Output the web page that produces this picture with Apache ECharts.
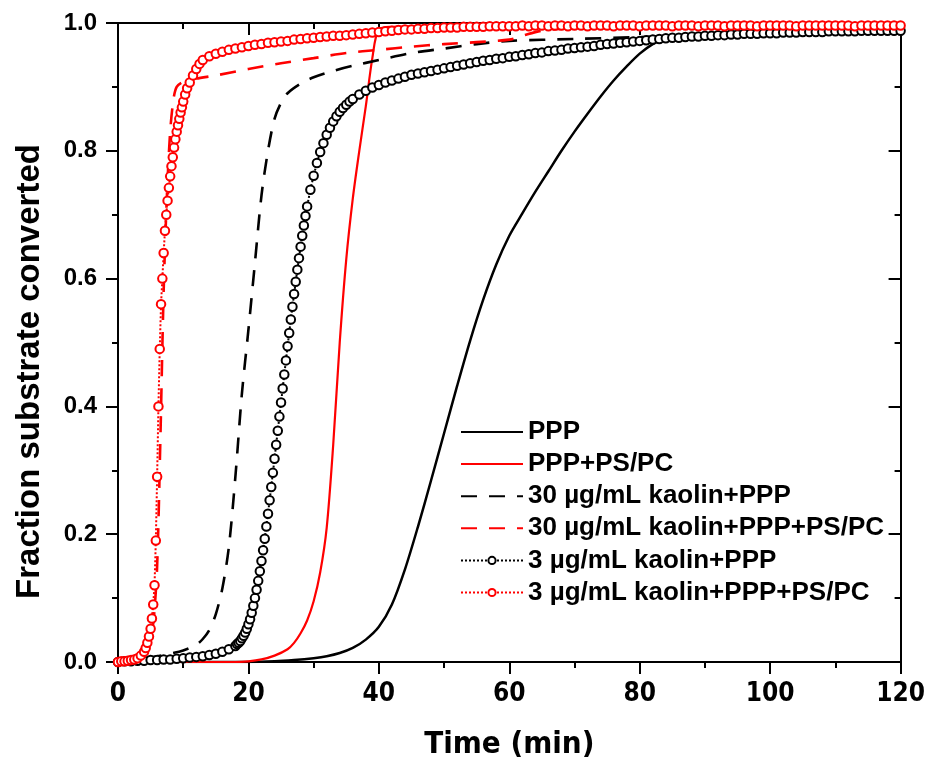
<!DOCTYPE html>
<html>
<head>
<meta charset="utf-8">
<title>Fraction substrate converted</title>
<script src="https://cdn.jsdelivr.net/npm/echarts@6/dist/echarts.min.js"></script>
<style>
  html, body { margin: 0; padding: 0; background: #fff; }
  #chart { width: 928px; height: 766px; }
</style>
</head>
<body>
<div id="chart"></div>
<script>
// series names (legend order)
var names = [
  "PPP",
  "PPP+PS/PC",
  "30 µg/mL kaolin+PPP",
  "30 µg/mL kaolin+PPP+PS/PC",
  "3 µg/mL kaolin+PPP",
  "3 µg/mL kaolin+PPP+PS/PC"
];

// PPP (black solid)
var pppTime = [0, 10, 20, 24, 27, 30, 32, 34, 36, 38, 40, 42, 44, 46, 48, 50, 52, 54, 56, 58, 60, 62, 64, 66, 68, 70, 72, 74, 76, 78, 80, 82, 84, 86, 90, 95, 100, 110, 120];
var pppValue = [0, 0, 0, 0.001, 0.003, 0.006, 0.009, 0.014, 0.022, 0.035, 0.055, 0.09, 0.145, 0.212, 0.284, 0.358, 0.432, 0.503, 0.567, 0.622, 0.667, 0.702, 0.736, 0.768, 0.8, 0.83, 0.858, 0.885, 0.91, 0.932, 0.952, 0.967, 0.976, 0.979, 0.982, 0.984, 0.986, 0.988, 0.99];

// PPP+PS/PC (red solid)
var psTime = [0, 18, 20, 22, 24, 26, 27, 28, 29, 30, 31, 32, 33, 34, 35, 36, 37, 38, 39, 40, 42, 50, 60, 80, 100, 120];
var psValue = [0, 0, 0.001, 0.004, 0.01, 0.02, 0.03, 0.045, 0.065, 0.095, 0.14, 0.21, 0.34, 0.5, 0.63, 0.725, 0.8, 0.87, 0.945, 0.99, 0.994, 0.995, 0.996, 0.997, 0.997, 0.997];

// 30 ug/mL kaolin+PPP (black dashed)
var k30Time = [0, 2, 4, 6, 8, 10, 12, 13, 14, 15, 16, 17, 18, 19, 20, 21, 22, 23, 24, 25, 26, 28, 30, 33, 36, 40, 45, 50, 55, 60, 70, 80, 90, 100, 110, 120];
var k30Value = [0, 0.002, 0.005, 0.009, 0.013, 0.018, 0.027, 0.036, 0.05, 0.075, 0.115, 0.18, 0.29, 0.42, 0.52, 0.625, 0.73, 0.8, 0.85, 0.875, 0.89, 0.905, 0.915, 0.925, 0.933, 0.942, 0.953, 0.96, 0.967, 0.972, 0.975, 0.978, 0.982, 0.985, 0.987, 0.988];

// 30 ug/mL kaolin+PPP+PS/PC (red dashed)
var k30psTime = [0, 2, 3, 4, 4.5, 5, 5.5, 6, 6.5, 7, 7.5, 8, 8.5, 9, 10, 12, 15, 20, 25, 30, 35, 40, 45, 50, 55, 60, 62, 65, 70, 80, 100, 120];
var k30psValue = [0, 0.002, 0.005, 0.012, 0.02, 0.035, 0.07, 0.15, 0.35, 0.58, 0.73, 0.83, 0.88, 0.9, 0.908, 0.913, 0.918, 0.928, 0.937, 0.945, 0.953, 0.958, 0.963, 0.967, 0.97, 0.974, 0.98, 0.988, 0.992, 0.994, 0.995, 0.996];

// 3 ug/mL kaolin+PPP (black dotted, open circles)
var k3Time = [0, 1, 2, 3, 4, 5, 6, 7, 8, 9, 10, 11, 12, 13, 14, 15, 16, 17, 18,
  18.25, 18.5, 18.75, 19, 19.25, 19.5, 19.75, 20, 20.25, 20.5, 20.75, 21, 21.25, 21.5, 21.75, 22,
  22.25, 22.5, 22.75, 23, 23.25, 23.5, 23.75, 24, 24.25, 24.5, 24.75, 25, 25.25, 25.5, 25.75, 26,
  26.25, 26.5, 26.75, 27, 27.25, 27.5, 27.75, 28, 28.25, 28.5, 28.75, 29,
  29.5, 30, 30.5, 31, 31.5, 32, 32.5, 33, 33.5, 34, 34.5, 35, 35.5, 36,
  37, 38, 39, 40, 41, 42, 43, 44, 45, 46, 47, 48, 49, 50, 51, 52, 53, 54, 55, 56, 57, 58, 59, 60,
  61, 62, 63, 64, 65, 66, 67, 68, 69, 70, 71, 72, 73, 74, 75, 76, 77, 78, 79, 80,
  81, 82, 83, 84, 85, 86, 87, 88, 89, 90, 91, 92, 93, 94, 95, 96, 97, 98, 99, 100,
  101, 102, 103, 104, 105, 106, 107, 108, 109, 110, 111, 112, 113, 114, 115, 116, 117, 118, 119, 120];
var k3Value = [0, 0.001, 0.001, 0.002, 0.002, 0.003, 0.003, 0.004, 0.004, 0.005, 0.006, 0.007, 0.008, 0.009, 0.011, 0.013, 0.016, 0.02, 0.025,
  0.028, 0.03, 0.033, 0.037, 0.041, 0.046, 0.052, 0.059, 0.067, 0.077, 0.088, 0.1, 0.113, 0.127, 0.142, 0.158,
  0.175, 0.193, 0.212, 0.232, 0.253, 0.274, 0.296, 0.318, 0.34, 0.362, 0.384, 0.406, 0.428, 0.45, 0.472, 0.494,
  0.515, 0.536, 0.556, 0.576, 0.595, 0.614, 0.632, 0.65, 0.667, 0.683, 0.698, 0.713,
  0.739, 0.761, 0.781, 0.798, 0.812, 0.825, 0.836, 0.846, 0.854, 0.861, 0.867, 0.872, 0.877, 0.881,
  0.888, 0.894, 0.899, 0.903, 0.907, 0.91, 0.913, 0.916, 0.919, 0.921, 0.923, 0.925, 0.927, 0.929, 0.931, 0.933, 0.935, 0.937, 0.939, 0.941, 0.942, 0.944, 0.945, 0.947,
  0.948, 0.95, 0.951, 0.953, 0.954, 0.956, 0.957, 0.958, 0.96, 0.961, 0.962, 0.963, 0.964, 0.966, 0.967, 0.968, 0.969, 0.97, 0.971, 0.972,
  0.973, 0.974, 0.975, 0.976, 0.977, 0.977, 0.978, 0.979, 0.979, 0.98, 0.98, 0.981, 0.981, 0.982, 0.982, 0.983, 0.983, 0.983, 0.984, 0.984,
  0.984, 0.985, 0.985, 0.985, 0.986, 0.986, 0.986, 0.986, 0.987, 0.987, 0.987, 0.987, 0.987, 0.988, 0.988, 0.988, 0.988, 0.988, 0.988, 0.988];

// 3 ug/mL kaolin+PPP+PS/PC (red dotted, open circles)
var k3psTime = [0, 0.5, 1, 1.5, 2, 2.5, 3, 3.5, 4, 4.25, 4.5, 4.75, 5, 5.2, 5.4, 5.6, 5.8, 6, 6.2, 6.4, 6.6, 6.8,
  7, 7.2, 7.4, 7.6, 7.8, 8, 8.2, 8.4, 8.6, 8.8, 9, 9.2, 9.4, 9.6, 9.8, 10, 10.3, 10.6, 11, 11.5, 12, 12.5, 13,
  14, 15, 16, 17, 18, 19, 20, 21, 22, 23, 24, 25, 26, 27, 28, 29, 30,
  31, 32, 33, 34, 35, 36, 37, 38, 39, 40, 41, 42, 43, 44, 45, 46, 47, 48, 49, 50,
  51, 52, 53, 54, 55, 56, 57, 58, 59, 60, 61, 62, 63, 64, 65, 66, 67, 68, 69, 70,
  71, 72, 73, 74, 75, 76, 77, 78, 79, 80, 81, 82, 83, 84, 85, 86, 87, 88, 89, 90,
  91, 92, 93, 94, 95, 96, 97, 98, 99, 100, 101, 102, 103, 104, 105, 106, 107, 108, 109, 110,
  111, 112, 113, 114, 115, 116, 117, 118, 119, 120];
var k3psValue = [0, 0.001, 0.001, 0.002, 0.003, 0.004, 0.006, 0.01, 0.016, 0.022, 0.03, 0.04, 0.052, 0.068, 0.09, 0.12, 0.19, 0.29, 0.4, 0.49, 0.56, 0.6,
  0.64, 0.675, 0.7, 0.722, 0.742, 0.76, 0.776, 0.79, 0.805, 0.818, 0.83, 0.84, 0.85, 0.86, 0.868, 0.877, 0.888, 0.898, 0.907, 0.918, 0.928, 0.936, 0.942,
  0.948, 0.952, 0.955, 0.958, 0.96, 0.962, 0.964, 0.966, 0.967, 0.969, 0.97, 0.971, 0.972, 0.974, 0.975, 0.976, 0.977,
  0.978, 0.979, 0.98, 0.98, 0.981, 0.982, 0.983, 0.984, 0.985, 0.986, 0.987, 0.988, 0.989, 0.99, 0.99, 0.991, 0.991, 0.992, 0.992, 0.993,
  0.993, 0.993, 0.994, 0.994, 0.994, 0.994, 0.995, 0.995, 0.995, 0.995, 0.995, 0.996, 0.995, 0.996, 0.996, 0.995, 0.996, 0.996, 0.995, 0.996,
  0.996, 0.995, 0.996, 0.996, 0.996, 0.995, 0.996, 0.996, 0.996, 0.995, 0.996, 0.996, 0.996, 0.996, 0.995, 0.996, 0.996, 0.996, 0.995, 0.996,
  0.996, 0.996, 0.995, 0.996, 0.996, 0.996, 0.996, 0.995, 0.996, 0.996, 0.996, 0.996, 0.996, 0.995, 0.996, 0.996, 0.996, 0.996, 0.996, 0.996,
  0.996, 0.996, 0.995, 0.996, 0.996, 0.996, 0.996, 0.996, 0.996, 0.996];

var xTicks = [0, 20, 40, 60, 80, 100, 120];
var yTicks = [0.0, 0.2, 0.4, 0.6, 0.8, 1.0];

function pairs(ts, vs) {
  return ts.map(function (t, i) { return [t, vs[i]]; });
}

var sans = "'Liberation Sans', Arial, sans-serif";
var narrow = "'Liberation Sans Narrow', 'Arial Narrow', 'DejaVu Sans Condensed', sans-serif";
var black = "#000000";
var red = "#ff0000";

function frameAxis(extra) {
  var base = {
    type: "value",
    axisLine: { show: true, onZero: false, lineStyle: { color: black, width: 2 } },
    axisTick: { show: true, length: 12, lineStyle: { color: black, width: 2 } },
    minorTick: { show: true, splitNumber: 2, length: 6, lineStyle: { color: black, width: 2 } },
    splitLine: { show: false },
    minorSplitLine: { show: false }
  };
  return Object.assign(base, extra);
}

// legend entries: the plain lines get no marker in their legend sample
var legendData = names.map(function (n, i) {
  return i < 4 ? { name: n, itemStyle: { opacity: 0 } } : { name: n };
});

var myChart = echarts.init(document.getElementById("chart"));

myChart.setOption({
  animation: false,
  backgroundColor: "#ffffff",
  grid: { left: 118, right: 23, top: 23, bottom: 104, containLabel: false },
  legend: {
    orient: "vertical",
    left: 460,
    top: 419,
    padding: 0,
    itemWidth: 62,
    itemHeight: 9,
    itemGap: 6.1,
    selectedMode: false,
    textStyle: { color: black, fontSize: 26, fontWeight: "bold", fontFamily: sans, lineHeight: 26 },
    data: legendData
  },
  xAxis: [
    frameAxis({
      position: "bottom",
      min: xTicks[0],
      max: xTicks[xTicks.length - 1],
      interval: xTicks[1] - xTicks[0],
      axisLabel: { color: black, fontSize: 26, fontWeight: "bold", fontFamily: narrow, margin: 19 },
      name: "Time (min)",
      nameLocation: "middle",
      nameGap: 67,
      nameTextStyle: { color: black, fontSize: 31, fontWeight: "bold", fontFamily: narrow }
    }),
    frameAxis({
      position: "top",
      min: xTicks[0],
      max: xTicks[xTicks.length - 1],
      interval: xTicks[1] - xTicks[0],
      axisTick: { show: true, inside: true, length: 12, lineStyle: { color: black, width: 2 } },
      axisLabel: { show: false }
    })
  ],
  yAxis: [
    frameAxis({
      position: "left",
      min: yTicks[0],
      max: yTicks[yTicks.length - 1],
      interval: yTicks[1] - yTicks[0],
      axisLabel: {
        color: black, fontSize: 24, fontWeight: "bold", fontFamily: sans, margin: 21,
        formatter: function (v) { return v.toFixed(1); }
      },
      name: "Fraction substrate converted",
      nameLocation: "middle",
      nameGap: 72,
      nameTextStyle: { color: black, fontSize: 33, fontWeight: "bold", fontFamily: sans, padding: [0, 58, 0, 0] }
    }),
    frameAxis({
      position: "right",
      min: yTicks[0],
      max: yTicks[yTicks.length - 1],
      interval: yTicks[1] - yTicks[0],
      axisTick: { show: true, inside: true, length: 12, lineStyle: { color: black, width: 2 } },
      axisLabel: { show: false }
    })
  ],
  series: [
    {
      name: names[0], type: "line", data: pairs(pppTime, pppValue),
      symbol: "none", smooth: 0.3,
      lineStyle: { color: black, width: 2.5 }, itemStyle: { color: black }
    },
    {
      name: names[1], type: "line", data: pairs(psTime, psValue),
      symbol: "none", smooth: 0.3,
      lineStyle: { color: red, width: 2.2 }, itemStyle: { color: red }
    },
    {
      name: names[2], type: "line", data: pairs(k30Time, k30Value),
      symbol: "none", smooth: 0.3,
      lineStyle: { color: black, width: 2.6, type: [16, 12] }, itemStyle: { color: black }
    },
    {
      name: names[3], type: "line", data: pairs(k30psTime, k30psValue),
      symbol: "none", smooth: 0.3,
      lineStyle: { color: red, width: 2.6, type: [16, 12] }, itemStyle: { color: red }
    },
    {
      name: names[4], type: "line", data: pairs(k3Time, k3Value),
      symbol: "emptyCircle", symbolSize: 8.5, showSymbol: true,
      lineStyle: { color: black, width: 2, type: "dotted" },
      itemStyle: { color: black, borderColor: black, borderWidth: 1.2 }
    },
    {
      name: names[5], type: "line", data: pairs(k3psTime, k3psValue),
      symbol: "emptyCircle", symbolSize: 8.5, showSymbol: true,
      lineStyle: { color: red, width: 2, type: "dotted" },
      itemStyle: { color: red, borderColor: red, borderWidth: 1.2 }
    }
  ]
});
</script>
</body>
</html>
